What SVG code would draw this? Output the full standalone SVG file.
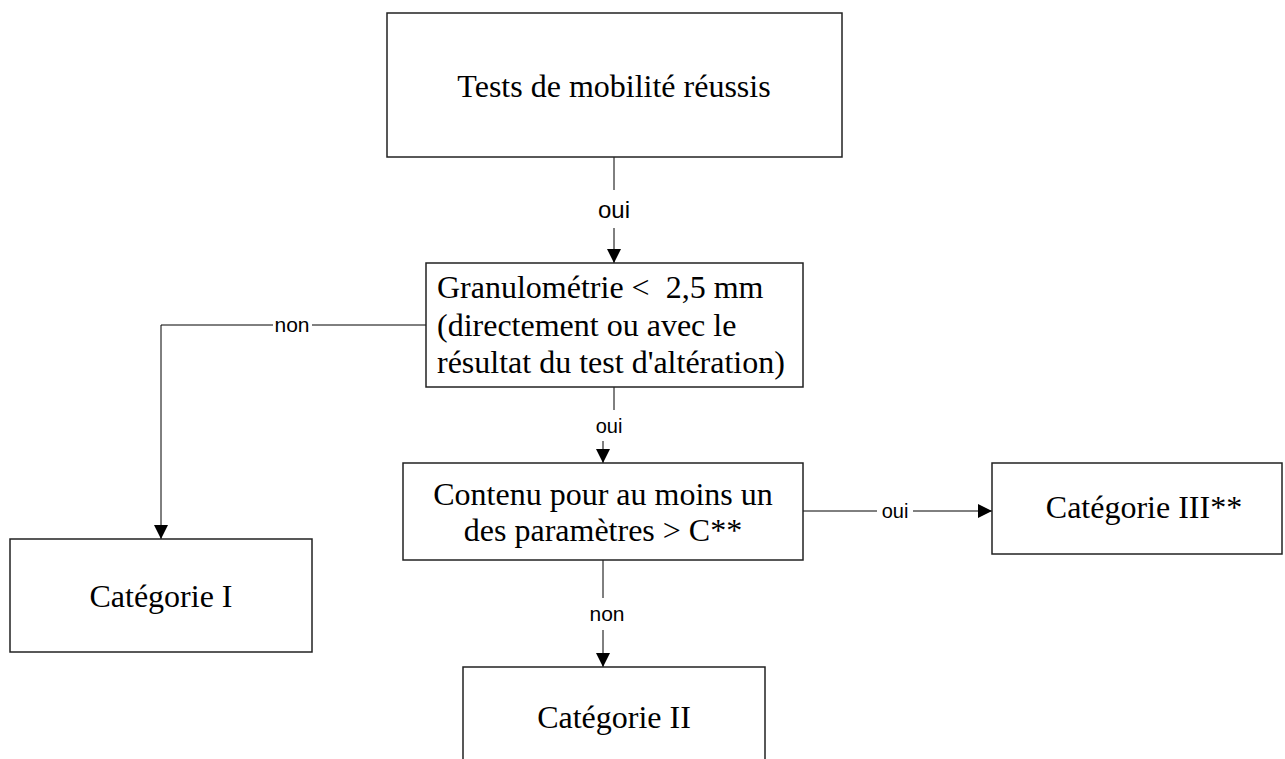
<svg xmlns="http://www.w3.org/2000/svg" width="1285" height="759" viewBox="0 0 1285 759">
<style>
.box{fill:#fff;stroke:#222;stroke-width:1.5}
.t{font-family:"Liberation Serif","Times New Roman",serif;font-size:32px;fill:#000;white-space:pre}
.tc{text-anchor:middle}
.ln{fill:none;stroke:#000;stroke-width:1}
.lb{font-family:"Liberation Sans",Arial,sans-serif;font-size:20px;fill:#000;text-anchor:middle}
</style>
<defs>
<marker id="ah" markerUnits="userSpaceOnUse" markerWidth="14" markerHeight="14" refX="14" refY="7" orient="auto">
<path d="M0,0 L14,7 L0,14 Z" fill="#000"/>
</marker>
</defs>
<rect width="1285" height="759" fill="#fff"/>
<g id="connectors">
<line class="ln" x1="614" y1="157" x2="614" y2="190"/>
<text class="lb" x="614" y="218" style="font-size:24px">oui</text>
<line class="ln" x1="614" y1="228" x2="614" y2="263" marker-end="url(#ah)"/>
<line class="ln" x1="426" y1="325" x2="312" y2="325"/>
<text class="lb" x="292" y="332" style="font-size:21px">non</text>
<polyline class="ln" points="273,325 161,325 161,539" marker-end="url(#ah)"/>
<line class="ln" x1="614" y1="387" x2="614" y2="410"/>
<text class="lb" x="609" y="433">oui</text>
<line class="ln" x1="603" y1="441" x2="603" y2="463" marker-end="url(#ah)"/>
<line class="ln" x1="803" y1="511" x2="877" y2="511"/>
<text class="lb" x="895" y="518">oui</text>
<line class="ln" x1="913" y1="511" x2="992" y2="511" marker-end="url(#ah)"/>
<line class="ln" x1="603" y1="560" x2="603" y2="598"/>
<text class="lb" x="607" y="621" style="font-size:21px">non</text>
<line class="ln" x1="603" y1="630" x2="603" y2="667" marker-end="url(#ah)"/>
</g>
<g id="n-tests">
<rect class="box" x="387" y="13" width="455" height="144"/>
<text class="t tc" x="614" y="97">Tests de mobilité réussis</text>
</g>
<g id="n-granulo">
<rect class="box" x="426" y="263" width="377" height="124"/>
<text class="t" x="437" y="298">Granulométrie &lt;  2,5 mm</text>
<text class="t" x="437" y="336">(directement ou avec le</text>
<text class="t" x="437" y="373">résultat du test d'altération)</text>
</g>
<g id="n-contenu">
<rect class="box" x="403" y="463" width="400" height="97"/>
<text class="t tc" x="603" y="505">Contenu pour au moins un</text>
<text class="t tc" x="603" y="541">des paramètres &gt; C**</text>
</g>
<g id="n-cat3">
<rect class="box" x="992" y="463" width="290" height="91"/>
<text class="t tc" x="1144" y="518">Catégorie III**</text>
</g>
<g id="n-cat1">
<rect class="box" x="10" y="539" width="302" height="113"/>
<text class="t tc" x="161" y="607">Catégorie I</text>
</g>
<g id="n-cat2">
<rect class="box" x="463" y="667" width="302" height="110"/>
<text class="t tc" x="614" y="728">Catégorie II</text>
</g>
</svg>
